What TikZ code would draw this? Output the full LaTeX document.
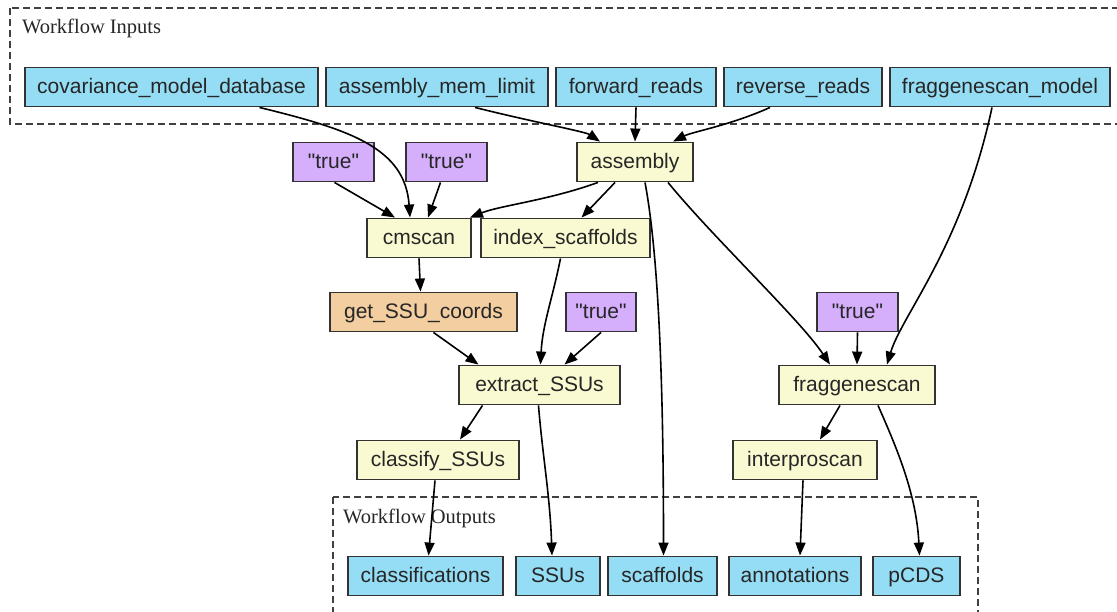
\documentclass[tikz,border=0pt]{standalone}
\usepackage{fontspec}
\setmainfont{Liberation Serif}
\setsansfont{Liberation Sans}
\usetikzlibrary{arrows.meta}
\definecolor{iocol}{HTML}{94DDF4}
\definecolor{stepcol}{HTML}{FAFAD2}
\definecolor{defcol}{HTML}{D5AEFC}
\definecolor{subcol}{HTML}{F3CEA1}
\tikzset{
  box/.style={draw=black!80, line width=1.9pt, inner sep=0pt, minimum height=39pt,
    text height=15pt, text depth=3pt,
    text=black!85, font=\sffamily\fontsize{21}{22}\selectfont},
  io/.style={box, fill=iocol},
  stepbox/.style={box, fill=stepcol},
  defbox/.style={box, fill=defcol},
  subbox/.style={box, fill=subcol},
  cluster/.style={draw=black!75, line width=1.6pt, dash pattern=on 7pt off 4pt},
  edge/.style={draw=black, line width=1.6pt, -{Triangle[length=13pt,width=10pt]}},
  clabel/.style={anchor=west, inner sep=0pt, text=black!85, font=\rmfamily\fontsize{20.5}{22}\selectfont}
}
\newcommand{\qt}[1]{\textquotedbl#1\textquotedbl}
\begin{document}
\begin{tikzpicture}[x=1pt,y=-1pt]
\useasboundingbox (0,0) rectangle (1117,611);
\clip (0,0) rectangle (1117,611);
\fill[white] (0,0) rectangle (1117,611);

% clusters
\draw[cluster] (10,8) rectangle (1125,124);
\node[clabel] (inlabel) at (22,28) {Workflow Inputs};
\draw[cluster] (333,497) rectangle (978,625);
\node[clabel] (outlabel) at (343,518) {Workflow Outputs};

% workflow inputs
\node[io, minimum width=293pt] (cov) at (171.5,87) {covariance\_model\_database};
\node[io, minimum width=222pt] (mem) at (437,87) {assembly\_mem\_limit};
\node[io, minimum width=160pt] (fwd) at (636,87) {forward\_reads};
\node[io, minimum width=158pt] (rev) at (803,87) {reverse\_reads};
\node[io, minimum width=220pt] (fgm) at (1000,87) {fraggenescan\_model};

% default values
\node[defbox, minimum width=81pt] (t1) at (333.5,162) {\qt{true}};
\node[defbox, minimum width=81pt] (t2) at (446.5,162) {\qt{true}};
\node[defbox, minimum width=70pt] (t3) at (601,312) {\qt{true}};
\node[defbox, minimum width=81pt] (t4) at (857.5,312) {\qt{true}};

% steps
\node[stepbox, minimum width=116pt] (asm) at (635,162) {assembly};
\node[stepbox, minimum width=104pt] (cms) at (419,238) {cmscan};
\node[stepbox, minimum width=169pt] (idx) at (565.5,238) {index\_scaffolds};
\node[subbox, minimum width=187pt] (gsc) at (423.5,312) {get\_SSU\_coords};
\node[stepbox, minimum width=161pt] (ext) at (539.5,385) {extract\_SSUs};
\node[stepbox, minimum width=156pt] (fgs) at (857,385) {fraggenescan};
\node[stepbox, minimum width=162pt] (cls) at (438,460) {classify\_SSUs};
\node[stepbox, minimum width=144pt] (ipr) at (805,460) {interproscan};

% workflow outputs
\node[io, minimum width=155pt] (ocl) at (425.5,576) {classifications};
\node[io, minimum width=84pt] (ossu) at (558,576) {SSUs};
\node[io, minimum width=109pt] (osc) at (662.5,576) {scaffolds};
\node[io, minimum width=132pt] (oan) at (795,576) {annotations};
\node[io, minimum width=87pt] (opc) at (916.5,576) {pCDS};

% edges
\draw[edge] ([xshift=88pt]cov.south) .. controls +(90,22) and +(-5,-70) .. ([xshift=-9pt]cms.north);
\draw[edge] ([xshift=38pt]mem.south) .. controls +(60,15) and +(-15,-10) .. ([xshift=-35pt]asm.north);
\draw[edge] (fwd.south) -- (asm.north);
\draw[edge] ([xshift=-33pt]rev.south) .. controls +(-40,18) and +(20,-10) .. ([xshift=38pt]asm.north);
\draw[edge] ([xshift=-8pt]fgm.south) .. controls +(-30,140) and +(15,-50) .. ([xshift=30pt]fgs.north);

\draw[edge] ([xshift=1pt]t1.south) -- ([xshift=-24pt]cms.north);
\draw[edge] ([xshift=-6pt]t2.south) -- ([xshift=9pt]cms.north);
\draw[edge] ([xshift=-37pt]asm.south) .. controls +(-50,18) and +(30,-12) .. ([xshift=-2pt]cms.north east);
\draw[edge] ([xshift=-20pt]asm.south) -- ([xshift=16pt]idx.north);
\draw[edge] ([xshift=10pt]asm.south) .. controls +(15,80) and +(0,-150) .. ([xshift=1pt]osc.north);
\draw[edge] ([xshift=33pt]asm.south) .. controls +(45,55) and +(-30,-45) .. ([xshift=-27pt]fgs.north);

\draw[edge] (cms.south) -- ([xshift=-3pt]gsc.north);
\draw[edge] ([xshift=-5pt]idx.south) .. controls +(-8,40) and +(2,-40) .. ([xshift=1pt]ext.north);
\draw[edge] ([xshift=10pt]gsc.south) -- ([xshift=-61pt]ext.north);
\draw[edge] (t3.south) -- ([xshift=25pt]ext.north);
\draw[edge] (t4.south) -- (fgs.north);

\draw[edge] ([xshift=-57pt]ext.south) -- ([xshift=22pt]cls.north);
\draw[edge] ([xshift=-1pt]ext.south) .. controls +(4,50) and +(-2,-60) .. ([xshift=-6pt]ossu.north);
\draw[edge] ([xshift=-17pt]fgs.south) -- ([xshift=15pt]ipr.north);
\draw[edge] ([xshift=21pt]fgs.south) .. controls +(20,45) and +(-3,-60) .. ([xshift=3pt]opc.north);

\draw[edge] ([xshift=-3pt]cls.south) -- ([xshift=3pt]ocl.north);
\draw[edge] ([xshift=-2pt]ipr.south) -- ([xshift=5pt]oan.north);
\end{tikzpicture}
\end{document}
